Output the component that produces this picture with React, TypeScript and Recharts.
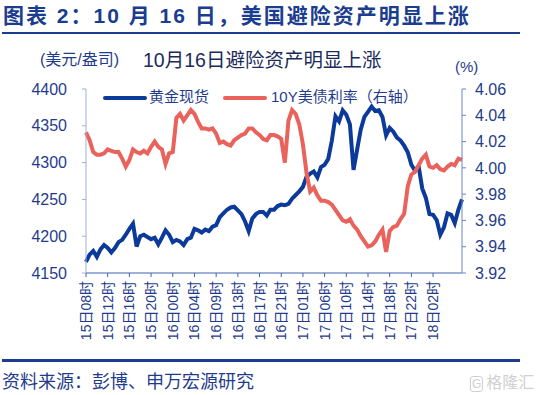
import React from 'react';
import { LineChart, Line, XAxis, YAxis } from 'recharts';

// x-axis labels, one every 6 points
const timeLabels = [
  '15日08时', '15日12时', '15日16时', '15日20时', '16日00时', '16日04时',
  '16日09时', '16日13时', '16日17时', '16日21时', '17日01时', '17日06时',
  '17日10时', '17日14时', '17日18时', '17日22时', '18日02时',
];

// 黄金现货, 美元/盎司
const goldSpot = [
  4165, 4175, 4180, 4172, 4182, 4188, 4184, 4178, 4184, 4192,
  4195, 4202, 4210, 4217, 4186, 4200, 4202, 4199, 4196, 4198,
  4189, 4198, 4208, 4202, 4192, 4195, 4193, 4188, 4196, 4198,
  4210, 4208, 4205, 4209, 4207, 4213, 4215, 4226, 4231, 4236,
  4239, 4240, 4235, 4230, 4220, 4207, 4224, 4230, 4233, 4233,
  4228, 4236, 4236, 4241, 4243, 4242, 4244, 4251, 4256, 4261,
  4267, 4281, 4285, 4288, 4280, 4294, 4297, 4305, 4330, 4363,
  4356, 4371, 4365, 4352, 4290, 4318, 4345, 4362, 4369, 4376,
  4370, 4371, 4362, 4337, 4347, 4342, 4334, 4330, 4323, 4314,
  4297, 4289, 4295, 4265, 4252, 4230, 4229, 4222, 4202, 4212,
  4231, 4229, 4218, 4236, 4250,
];

// 10Y美债利率, %
const ust10y = [
  4.027, 4.021, 4.012, 4.010, 4.010, 4.011, 4.014, 4.013, 4.012, 4.012,
  4.007, 4.001, 4.006, 4.014, 4.012, 4.011, 4.013, 4.011, 4.016, 4.020,
  4.016, 4.014, 4.003, 4.011, 4.012, 4.038, 4.041, 4.036, 4.040, 4.044,
  4.041, 4.035, 4.030, 4.030, 4.029, 4.030, 4.026, 4.019, 4.020, 4.018,
  4.017, 4.021, 4.023, 4.025, 4.026, 4.030, 4.030, 4.027, 4.025, 4.022,
  4.021, 4.025, 4.025, 4.024, 4.022, 4.004, 4.036, 4.044, 4.041, 4.033,
  4.018, 3.996, 3.982, 3.985, 3.979, 3.975, 3.975, 3.974, 3.972, 3.968,
  3.964, 3.960, 3.959, 3.961, 3.956, 3.953, 3.948, 3.944, 3.940, 3.941,
  3.944, 3.949, 3.953, 3.936, 3.952, 3.955, 3.956, 3.961, 3.965, 3.986,
  3.995, 3.997, 4.002, 4.007, 4.010, 4.001, 4.000, 4.002, 3.999, 3.998,
  4.001, 4.003, 4.002, 4.007, 4.006,
];

const leftTicks = [4150, 4200, 4250, 4300, 4350, 4400];
const rightTicks = [3.92, 3.94, 3.96, 3.98, 4.0, 4.02, 4.04, 4.06];

const STEP = 6;
const xTicks = timeLabels.map((_, k) => k * STEP);

const data = goldSpot.map((g, i) => ({ i, gold: g, yld: ust10y[i] }));

const BLUE = '#0c3a9a';
const RED = '#e9625c';
const TEXT = '#1f3c8c';
const FONT = '"Liberation Sans", Arial, "Noto Sans CJK SC", sans-serif';

const XTick = (props: any) => {
  const { x, y, payload } = props;
  const label = timeLabels[Math.round(payload.value / STEP)] ?? '';
  return (
    <text
      x={x}
      y={y}
      dy="0.36em"
      transform={`rotate(-90, ${x}, ${y})`}
      textAnchor="end"
      fill={TEXT}
      fontSize={14}
      fontFamily={FONT}
    >
      {label}
    </text>
  );
};

const abs = (left: number, top: number): React.CSSProperties => ({
  position: 'absolute',
  left,
  top,
  whiteSpace: 'nowrap',
});

const App = () => {
  return (
    <div style={{ position: 'absolute', left: 0, top: 0, width: 545, height: 395, background: '#fff', fontFamily: FONT }}>
      <div style={{ ...abs(3, 3), fontSize: 21, lineHeight: '25px', fontWeight: 'bold', letterSpacing: 2, color: '#1a3d8f' }}>
        图表 2：10 月 16 日，美国避险资产明显上涨
      </div>
      <div style={{ ...abs(2, 32), width: 518, height: 2, background: '#1a3d8f' }} />

      <div style={{ ...abs(40, 51), fontSize: 16, lineHeight: '18px', color: TEXT }}>(美元/盎司)</div>
      <div style={{ ...abs(143, 48), fontSize: 19.5, lineHeight: '24px', color: '#1b2b5b' }}>10月16日避险资产明显上涨</div>
      <div style={{ ...abs(455, 58), fontSize: 15, lineHeight: '18px', color: TEXT }}>(%)</div>

      <LineChart
        width={545}
        height={395}
        data={data}
        margin={{ top: 89, right: 23, bottom: 22, left: 36 }}
      >
        <XAxis
          dataKey="i"
          type="number"
          domain={[0, goldSpot.length - 1]}
          ticks={xTicks}
          interval={0}
          height={100}
          tickSize={4}
          tickMargin={4}
          stroke="#3f63ad"
          tick={<XTick />}
        />
        <YAxis
          yAxisId="left"
          domain={[4150, 4400]}
          ticks={leftTicks}
          width={50}
          tickSize={4}
          tickMargin={15}
          stroke="#9fb0d6"
          tick={{ fill: TEXT, fontSize: 16, fontFamily: FONT }}
        />
        <YAxis
          yAxisId="right"
          orientation="right"
          domain={[3.92, 4.06]}
          ticks={rightTicks}
          width={60}
          tickSize={4}
          tickMargin={9}
          stroke="#6a86c2"
          tickFormatter={(v: number) => v.toFixed(2)}
          tick={{ fill: TEXT, fontSize: 16, fontFamily: FONT }}
        />
        <Line
          yAxisId="left"
          dataKey="gold"
          name="黄金现货"
          stroke={BLUE}
          strokeWidth={4}
          dot={false}
          type="linear"
          isAnimationActive={false}
        />
        <Line
          yAxisId="right"
          dataKey="yld"
          name="10Y美债利率（右轴）"
          stroke={RED}
          strokeWidth={4}
          dot={false}
          type="linear"
          isAnimationActive={false}
        />
      </LineChart>

      {/* legend */}
      <div style={{ ...abs(103, 96), width: 44, height: 4, background: BLUE, borderRadius: 2 }} />
      <div style={{ ...abs(149, 88), fontSize: 15, lineHeight: '18px', color: TEXT }}>黄金现货</div>
      <div style={{ ...abs(223, 96), width: 44, height: 4, background: RED, borderRadius: 2 }} />
      <div style={{ ...abs(271, 88), fontSize: 15, lineHeight: '18px', color: TEXT }}>10Y美债利率（右轴）</div>

      <div style={{ ...abs(2, 359), width: 518, height: 3, background: '#1a3d8f' }} />
      <div style={{ ...abs(2, 371), fontSize: 18, lineHeight: '22px', color: TEXT }}>资料来源：彭博、申万宏源研究</div>
      <div style={{ ...abs(470, 373), fontSize: 16, lineHeight: '20px', color: '#d0d0d0' }}>
        <span style={{ border: '1.5px solid #d0d0d0', borderRadius: 3, padding: '0 1px', marginRight: 3, fontSize: 12 }}>G</span>
        格隆汇
      </div>
    </div>
  );
};

export default App;
